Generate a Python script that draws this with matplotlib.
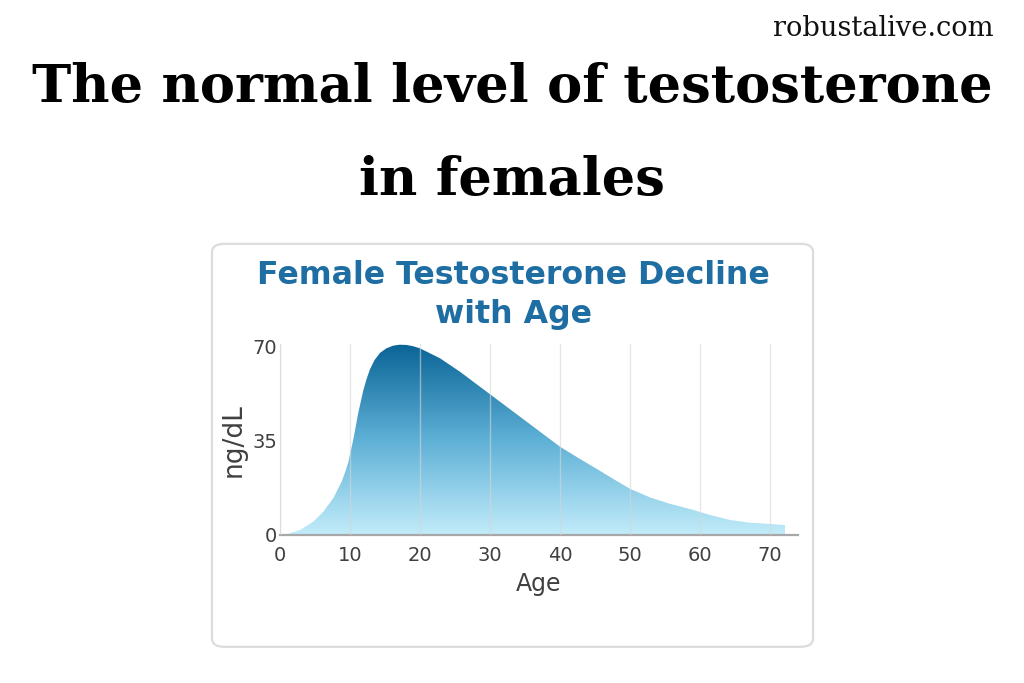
import numpy as np
import matplotlib.pyplot as plt
from matplotlib.colors import LinearSegmentedColormap
from matplotlib.patches import FancyBboxPatch, Polygon

# values
ages = [0, 0.96, 2.86, 4.76, 6.19, 7.61, 8.81, 9.3, 9.76, 10.47, 11.19, 11.9, 12.4,
        12.86, 13.5, 14.29, 15.2, 16.19, 17.1, 18.1, 19, 20, 22.86, 25.71, 28.57,
        31.43, 34.29, 37.14, 40, 42.86, 45.71, 47.14, 50, 52.86, 55.71, 58.57,
        61.43, 64.29, 67.14, 70, 72.14]
ng_dl = [0, 0.26, 1.86, 4.95, 8.67, 13.66, 19.84, 23.3, 27.0, 35.5, 45.5, 53.8, 58.3,
         61.7, 65.1, 67.8, 69.5, 70.5, 70.85, 70.75, 70.3, 69.5, 65.79, 60.8, 55.21,
         49.63, 44.04, 38.46, 32.87, 28.3, 23.9, 21.6, 17.2, 14.0, 11.6, 9.68,
         7.45, 5.58, 4.58, 4.1, 3.72]

x_ticks = [0, 10, 20, 30, 40, 50, 60, 70]
y_ticks = [0, 35, 70]

fig = plt.figure(figsize=(10.24, 6.83), dpi=100)
fig.patch.set_facecolor("white")

# rounded panel behind the small chart
panel = FancyBboxPatch((0.207, 0.053), 0.587, 0.59,
                       boxstyle="round,pad=0,rounding_size=0.012",
                       transform=fig.transFigure, facecolor="white",
                       edgecolor="#dcdcdc", linewidth=1.6, zorder=-5)
fig.patches.append(panel)

fig.text(0.97, 0.958, "robustalive.com", ha="right", va="center",
         fontsize=19.6, family="DejaVu Serif", color="#111111")
fig.text(0.5, 0.872, "The normal level of testosterone", ha="center", va="center",
         fontsize=38, family="DejaVu Serif", weight="bold", color="black")
fig.text(0.5, 0.735, "in females", ha="center", va="center",
         fontsize=38, family="DejaVu Serif", weight="bold", color="black")

fig.text(0.501, 0.596, "Female Testosterone Decline", ha="center", va="center",
         fontsize=22.8, weight="bold", color="#1f6ea3")
fig.text(0.501, 0.539, "with Age", ha="center", va="center",
         fontsize=22.8, weight="bold", color="#1f6ea3")

ax = fig.add_axes([0.2734, 0.2167, 0.5059, 0.2792])
ax.set_facecolor("none")
ax.set_xlim(0, 74)
ax.set_ylim(0, 71)

# gradient fill clipped to the area under the curve
cmap = LinearSegmentedColormap.from_list("tgrad", ["#c2ecfa", "#5eb0d6", "#0a6496"])
grad = np.linspace(0, 1, 256).reshape(-1, 1)
im = ax.imshow(grad, extent=[0, 74, 0, 71], origin="lower", aspect="auto",
               cmap=cmap, zorder=1)
verts = list(zip(ages, ng_dl)) + [(ages[-1], 0), (ages[0], 0)]
poly = Polygon(verts, closed=True, facecolor="none", edgecolor="none")
ax.add_patch(poly)
im.set_clip_path(poly)

ax.set_xticks(x_ticks)
ax.set_yticks(y_ticks)
ax.grid(axis="x", color="#d6d6d6", linewidth=1, alpha=0.6, zorder=2)
ax.set_axisbelow(False)
ax.tick_params(length=0, labelsize=14, labelcolor="#404040")
ax.tick_params(axis="x", pad=8)
ax.tick_params(axis="y", pad=2)

for s in ["top", "right"]:
    ax.spines[s].set_visible(False)
ax.spines["left"].set_color("#e4e4e4")
ax.spines["bottom"].set_color("#a8a8a8")
ax.spines["bottom"].set_linewidth(1.6)

ax.set_xlabel("Age", fontsize=17, color="#404040", labelpad=5)
ax.set_ylabel("ng/dL", fontsize=19, color="#404040", labelpad=4)

fig.savefig("out.png", dpi=100, facecolor="white")
